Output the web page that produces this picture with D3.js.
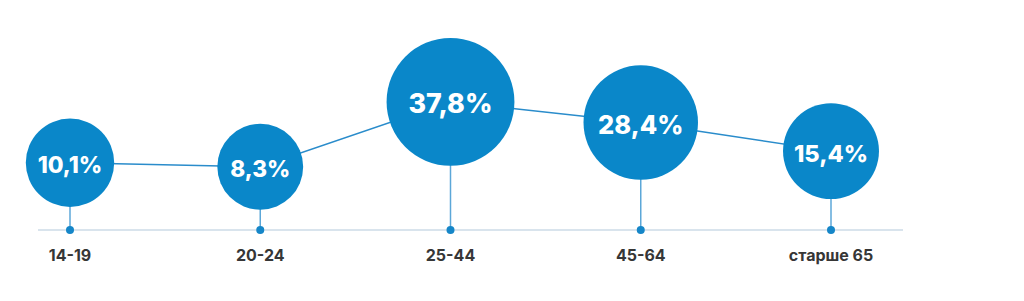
<!DOCTYPE html>
<html>
<head>
<meta charset="utf-8">
<script src="https://cdn.jsdelivr.net/npm/d3@7"></script>
<style>
  html, body { margin: 0; padding: 0; background: #fff; }
  svg { display: block; }
</style>
</head>
<body>
<svg id="chart" width="1024" height="301"></svg>
<script>
const categories = ["14-19", "20-24", "25-44", "45-64", "старше 65"];
const values = [10.1, 8.3, 37.8, 28.4, 15.4];
const valueLabels = ["10,1%", "8,3%", "37,8%", "28,4%", "15,4%"];

const svg = d3.select("#chart");
const baseY = 230;
const blue = "#0a87c9";

const x = d3.scalePoint().domain(categories).range([70, 831]);
const y = d3.scaleLinear().domain([0, 40]).range([185, 97]);
const r = d3.scaleLinear().domain([0, 40]).range([37, 65.5]);

const data = categories.map((c, i) => ({ c, v: values[i], label: valueLabels[i] }));

// baseline
svg.append("line")
  .attr("x1", 38).attr("x2", 903)
  .attr("y1", baseY).attr("y2", baseY)
  .attr("stroke", "#b3cadb").attr("stroke-width", 1.2);

// stems
svg.selectAll(".stem").data(data).join("line")
  .attr("class", "stem")
  .attr("x1", d => x(d.c)).attr("x2", d => x(d.c))
  .attr("y1", d => y(d.v)).attr("y2", baseY)
  .attr("stroke", "#5ca7d8").attr("stroke-width", 1.5);

// connecting line
svg.append("path")
  .datum(data)
  .attr("d", d3.line().x(d => x(d.c)).y(d => y(d.v)))
  .attr("fill", "none")
  .attr("stroke", "#2a8ccb").attr("stroke-width", 1.5);

// baseline dots
svg.selectAll(".dot").data(data).join("circle")
  .attr("class", "dot")
  .attr("cx", d => x(d.c)).attr("cy", baseY).attr("r", 4)
  .attr("fill", "#1586c8");

// bubbles
svg.selectAll(".bubble").data(data).join("circle")
  .attr("class", "bubble")
  .attr("cx", d => x(d.c)).attr("cy", d => y(d.v)).attr("r", d => r(d.v))
  .attr("fill", blue);

const fsOf = d => 14 + r(d.v) * 0.2;

// value labels
svg.selectAll(".val").data(data).join("text")
  .attr("class", "val")
  .attr("x", d => x(d.c))
  .attr("y", d => y(d.v) + 2 + fsOf(d) * 0.36)
  .attr("text-anchor", "middle")
  .attr("fill", "#fff")
  .attr("font-family", "Inter, 'Open Sans', sans-serif")
  .attr("font-weight", 800)
  .attr("font-size", d => fsOf(d) + "px")
  .text(d => d.label);

// category labels
svg.selectAll(".cat").data(data).join("text")
  .attr("class", "cat")
  .attr("x", d => x(d.c))
  .attr("y", 261)
  .attr("text-anchor", "middle")
  .attr("fill", "#363636")
  .attr("font-family", "Inter, 'Open Sans', sans-serif")
  .attr("font-weight", 700)
  .attr("font-size", "16px")
  .text(d => d.c);
</script>
</body>
</html>
